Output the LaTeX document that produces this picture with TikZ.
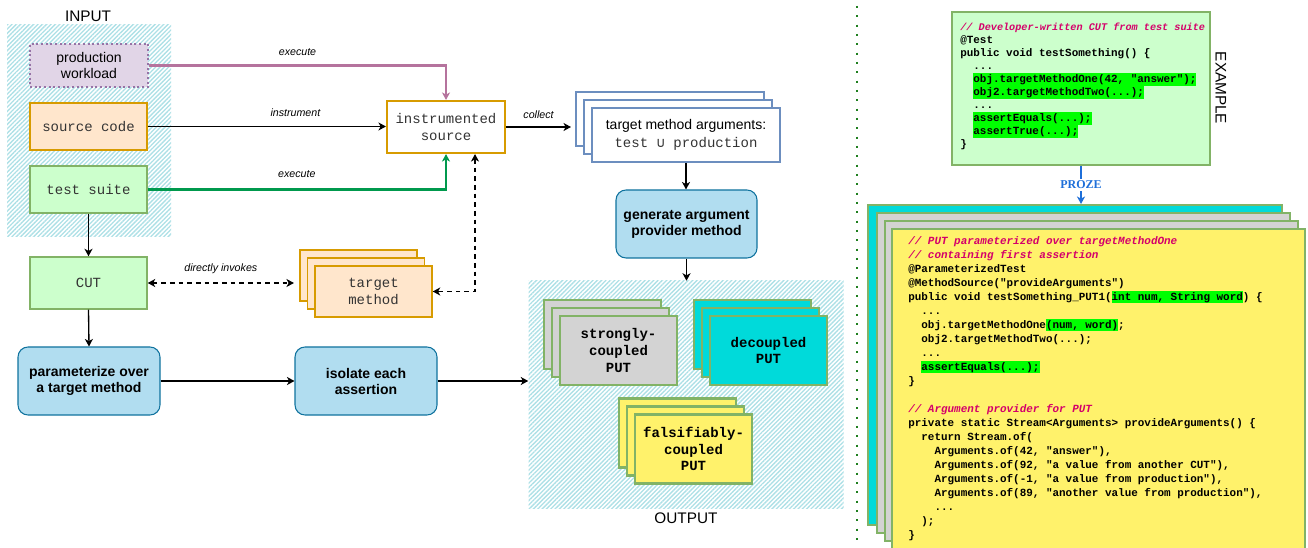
\documentclass[tikz,border=0pt]{standalone}
\usepackage{fontspec}
\setmainfont{Liberation Sans}
\setmonofont{Liberation Mono}
\newfontfamily\dejamono{DejaVu Sans Mono}
\newfontfamily\serifb{Liberation Serif}
\usetikzlibrary{arrows.meta,patterns.meta}
\definecolor{hatchc}{HTML}{ADE0E6}
\definecolor{purpS}{HTML}{9673A6}
\definecolor{purpF}{HTML}{E1D5E7}
\definecolor{purpA}{HTML}{B5739D}
\definecolor{orS}{HTML}{D79B00}
\definecolor{orF}{HTML}{FFE6CC}
\definecolor{grS}{HTML}{82B366}
\definecolor{grF}{HTML}{CCFFCC}
\definecolor{grA}{HTML}{00994D}
\definecolor{blS}{HTML}{10739E}
\definecolor{blF}{HTML}{B1DDF0}
\definecolor{argS}{HTML}{6C8EBF}
\definecolor{grayF}{HTML}{D3D3D3}
\definecolor{cyanF}{HTML}{00DADA}
\definecolor{yelF}{HTML}{FFF26B}
\definecolor{hlgreen}{HTML}{00FF00}
\definecolor{cmt}{HTML}{D4006A}
\definecolor{proze}{HTML}{1E6FD9}
\definecolor{sepc}{HTML}{1F7F1F}
\definecolor{monoT}{HTML}{333333}
\newcommand\hlg[1]{{\setlength{\fboxsep}{0pt}\colorbox{hlgreen}{\vrule width 0pt height 7pt depth 2.3pt\relax #1}}}
\begin{document}
\begin{tikzpicture}[x=0.75pt,y=-0.75pt,
  >={Stealth[length=5.6pt,width=6pt,inset=1.6pt]},
  box/.style={draw, inner sep=0pt, align=center},
  sz/.style 2 args={minimum width=#1*0.75pt, minimum height=#2*0.75pt},
  hatch/.style={pattern={Lines[angle=45,distance=2.3pt,line width=1pt]}, pattern color=hatchc, inner sep=0pt},
  lbl/.style={font=\fontsize{10.5pt}{12pt}\selectfont},
  mono/.style={font=\fontsize{10.5pt}{12.75pt}\selectfont\ttfamily, text=monoT},
  monob/.style={font=\fontsize{10.5pt}{12.4pt}\selectfont\ttfamily\bfseries},
  boldl/.style={font=\fontsize{10.5pt}{12pt}\selectfont\bfseries},
  elabel/.style={font=\fontsize{8pt}{9pt}\selectfont\itshape, anchor=base, inner sep=0pt, text=black},
  ttl/.style={font=\fontsize{11.5pt}{13pt}\selectfont},
  stepbox/.style={box, sz={142}{68}, rounded corners=7.5pt, fill=blF, draw=blS, line width=0.8pt, boldl},
  tmbox/.style={box, sz={117}{51}, fill=orF, draw=orS, line width=1.1pt},
  argbox/.style={box, sz={188}{54}, fill=white, draw=argS, line width=1.5pt},
  putbox/.style={box, sz={117}{69}, draw=grS, line width=1.6pt, monob},
  bigbox/.style={box, sz={414}{320}, draw=grS, line width=1.5pt},
  conn/.style={line width=1pt, black},
  dsh/.style={dash pattern=on 3.5pt off 3pt},
  codeg/.style={inner sep=0pt, align=left, font=\fontsize{8.2pt}{9.8pt}\selectfont\ttfamily\bfseries},
  codey/.style={inner sep=0pt, align=left, font=\fontsize{8.2pt}{10.5pt}\selectfont\ttfamily\bfseries}
]
\useasboundingbox (0,0) rectangle (1308,548);

% regions
\node[hatch, sz={164}{212}] (inreg) at (89,131) {};
\node[ttl] (inlbl) at (88,16) {INPUT};
\node[hatch, sz={315}{227}] (outreg) at (686,394.5) {};
\node[ttl] (outlbl) at (686,518) {OUTPUT};

% inputs
\node[box, sz={118}{43}, fill=purpF, draw=purpS, line width=1.5pt, dash pattern=on 1.5pt off 2pt, lbl] (prod) at (89,65.5) {production\\workload};
\node[box, sz={117}{47}, fill=orF, draw=orS, line width=1.1pt, mono] (src) at (88.5,126.5) {source code};
\node[box, sz={117}{47}, fill=grF, draw=grS, line width=1.1pt, mono] (test) at (88.5,189.5) {test suite};
\node[box, sz={118}{52}, fill=white, draw=orS, line width=1.6pt, mono] (instr) at (446,127) {instrumented\\source};
\node[box, sz={117}{52}, fill=grF, draw=grS, line width=1.1pt, mono] (cut) at (88.5,283) {CUT};

\node[tmbox] (tm1) at (358.5,275.5) {};
\node[tmbox] (tm2) at (366,283.5) {};
\node[tmbox, mono] (tm3) at (373.5,291.5) {target\\method};

\node[stepbox] (param) at (89,381) {parameterize over\\a target method};
\node[stepbox] (iso) at (366,381) {isolate each\\assertion};

\node[argbox] (args1) at (670,119) {};
\node[argbox] (args2) at (678,127) {};
\node[argbox, font=\fontsize{10.5pt}{13.5pt}\selectfont] (args3) at (686,135) {target method arguments:\\{\ttfamily\color{monoT}test {\dejamono ∪} production}};

\node[stepbox, sz={141}{68}] (gen) at (686.5,224) {generate argument\\provider method};

% outputs
\node[putbox, fill=grayF] (sc1) at (602.5,334.5) {};
\node[putbox, fill=grayF] (sc2) at (610.5,342.5) {};
\node[putbox, fill=grayF] (sc3) at (618.5,350.5) {strongly-\\coupled\\PUT};
\node[putbox, fill=cyanF] (dc1) at (752.5,334.5) {};
\node[putbox, fill=cyanF] (dc2) at (760.5,342.5) {};
\node[putbox, fill=cyanF] (dc3) at (768.5,350.5) {decoupled\\PUT};
\node[putbox, fill=yelF] (fc1) at (677.5,433) {};
\node[putbox, fill=yelF] (fc2) at (685.5,441) {};
\node[putbox, fill=yelF] (fc3) at (693.5,449) {falsifiably-\\coupled\\PUT};

% connectors
\draw[purpA, line width=1.7pt, ->] (prod.east) -| node[elabel, pos=0.25, yshift=7.3pt] {execute} (instr.north);
\draw[conn, ->] (src.east) -- node[elabel, pos=0.62, yshift=7.3pt] {instrument} (src.east -| instr.west);
\draw[grA, line width=1.7pt, ->] (test.east) -| node[elabel, pos=0.25, yshift=9.2pt] {execute} (instr.south);
\draw[conn, ->] (test.south) -- (cut.north);
\draw[conn, dsh, <->] (cut.east) -- node[elabel, pos=0.5, yshift=8.5pt] {directly invokes} ([xshift=-4pt]cut.east -| tm1.west);
\draw[conn, dsh, <->] ([xshift=21.75pt]instr.south) |- (tm3.east);
\draw[conn, ->] (cut.south) -- (param.north);
\draw[conn, ->] (param.east) -- (iso.west);
\draw[conn, ->] (iso.east) -- (iso.east -| outreg.west);
\draw[conn, ->] (instr.east) -- node[elabel, pos=0.5, yshift=6pt] {collect} ([xshift=-3pt]instr.east -| args1.west);
\draw[conn, ->] (args3.south) -- (args3.south |- gen.north);
\draw[conn, ->] (gen.south) -- (gen.south |- outreg.north);

% separator
\coordinate (septop) at (857,6);
\coordinate (sepbot) at (857,546);
\draw[sepc, line width=1.6pt, dash pattern=on 1.6pt off 5.4pt] (septop) -- (sepbot);

% example: developer-written CUT
\node[box, sz={258}{153}, fill=grF, draw=grS, line width=1.1pt] (cutbox) at (1081,88.5) {};
\node[codeg, anchor=north west] (cutsrc) at (960,22.4) {%
{\fontsize{7.65pt}{9.8pt}\selectfont\color{cmt}\itshape // Developer-written CUT from test suite}\\
@Test\\
public void testSomething() \{\\
\phantom{xx}...\\
\phantom{xx}\hlg{obj.targetMethodOne(42, "answer");}\\
\phantom{xx}\hlg{obj2.targetMethodTwo(...);}\\
\phantom{xx}...\\
\phantom{xx}\hlg{assertEquals(...);}\\
\phantom{xx}\hlg{assertTrue(...);}\\
\}};
\node[ttl, rotate=-90] (ex) at (1221,88) {EXAMPLE};

% example: PUTs
\node[bigbox, fill=cyanF] (cy) at (1075,365) {};
\node[bigbox, fill=grayF, sz={413}{320}] (g1) at (1083.5,373) {};
\node[bigbox, fill=grayF, sz={413}{320}] (g2) at (1091.5,381) {};
\node[bigbox, fill=yelF, sz={413}{320}] (yel) at (1098.5,389) {};
\node[codey, anchor=north west] (putsrc) at (908,236.2) {%
{\color{cmt}\itshape // PUT parameterized over targetMethodOne}\\
{\color{cmt}\itshape // containing first assertion}\\
@ParameterizedTest\\
@MethodSource("provideArguments")\\
public void testSomething\_PUT1(\hlg{int num, String word}) \{\\
\phantom{xx}...\\
\phantom{xx}obj.targetMethodOne\hlg{(num, word)};\\
\phantom{xx}obj2.targetMethodTwo(...);\\
\phantom{xx}...\\
\phantom{xx}\hlg{assertEquals(...);}\\
\}\\
\mbox{}\\
{\color{cmt}\itshape // Argument provider for PUT}\\
private static Stream<Arguments> provideArguments() \{\\
\phantom{xx}return Stream.of(\\
\phantom{xxxx}Arguments.of(42, "answer"),\\
\phantom{xxxx}Arguments.of(92, "a value from another CUT"),\\
\phantom{xxxx}Arguments.of(-1, "a value from production"),\\
\phantom{xxxx}Arguments.of(89, "another value from production"),\\
\phantom{xxxx}...\\
\phantom{xx});\\
\}};

\draw[proze, line width=1pt, ->] (cutbox.south) -- node[fill=white, inner sep=1.5pt, font=\serifb\bfseries\fontsize{9pt}{10pt}\selectfont, text=proze] {PROZE} (cutbox.south |- cy.north);
\end{tikzpicture}
\end{document}
